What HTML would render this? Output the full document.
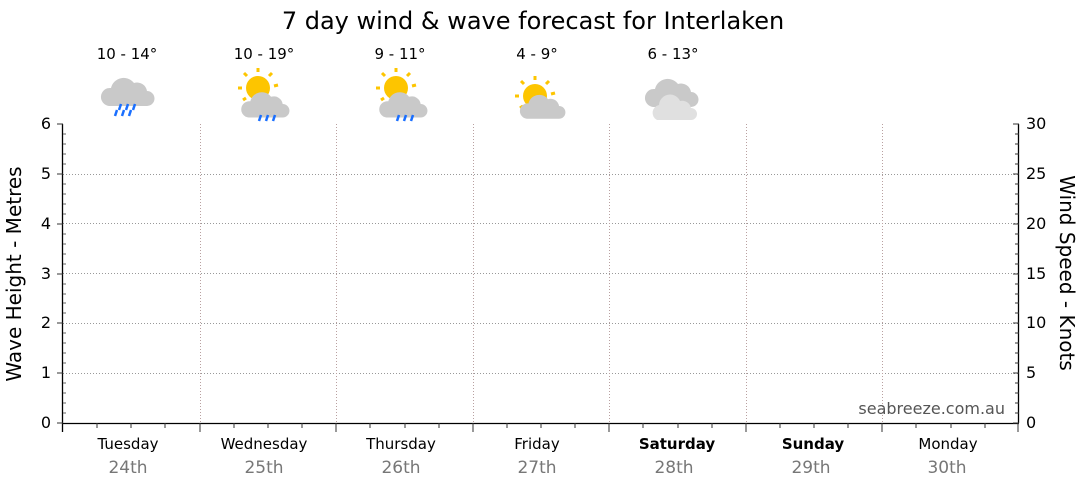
<!DOCTYPE html>
<html><head><meta charset="utf-8"><style>
html,body{margin:0;padding:0;background:#fff;}
svg{display:block;font-family:"DejaVu Sans",Verdana,sans-serif;}
</style></head><body>
<svg width="1080" height="490" viewBox="0 0 1080 490" xmlns="http://www.w3.org/2000/svg">
<defs>
<g id="cloud"><path d="M-25,15 a9,9 0 0 1 2,-18 a13,13 0 0 1 23,-5 a10,10 0 0 1 13,8 a7.5,7.5 0 0 1 0,15 z" fill="#c9c9c9"/></g>
<g id="sun"><circle r="12" fill="#fdc500"/><g stroke="#fdc500" stroke-width="3">
<line x1="0" y1="-16" x2="0" y2="-20"/><line x1="11" y1="-12" x2="14" y2="-15"/><line x1="-11" y1="-12" x2="-14" y2="-15"/><line x1="-16" y1="0" x2="-20" y2="0"/><line x1="16" y1="-2" x2="20" y2="-3"/><line x1="-12" y1="10" x2="-15" y2="12"/></g></g>
<g id="rain" stroke="#1a6fff" stroke-width="2.5"><line x1="0" y1="0" x2="-2" y2="6"/><line x1="7" y1="0" x2="5" y2="6"/><line x1="14" y1="0" x2="12" y2="6"/></g>
</defs>
<text x="533" y="29" font-size="24" text-anchor="middle" fill="#000">7 day wind &amp; wave forecast for Interlaken</text>
<g font-size="15" text-anchor="middle" fill="#000">
<text x="127" y="59">10 - 14°</text><text x="264" y="59">10 - 19°</text><text x="400" y="59">9 - 11°</text><text x="537" y="59">4 - 9°</text><text x="673" y="59">6 - 13°</text></g>
<g transform="translate(134,91)"><use href="#cloud"/><g transform="translate(-17,19)"><use href="#rain"/></g><g transform="translate(-13,13)"><use href="#rain"/></g></g>
<g transform="translate(258,88)"><use href="#sun"/></g>
<g transform="translate(271,104)"><use href="#cloud" transform="scale(0.9)"/><g transform="translate(-10,11)"><use href="#rain"/></g></g>
<g transform="translate(396,88)"><use href="#sun"/></g>
<g transform="translate(409,104)"><use href="#cloud" transform="scale(0.9)"/><g transform="translate(-10,11)"><use href="#rain"/></g></g>
<g transform="translate(535,96)"><use href="#sun"/></g>
<g transform="translate(548,106)"><use href="#cloud" transform="scale(0.85)"/></g>
<g transform="translate(678,92)"><use href="#cloud"/></g>
<g transform="translate(680,108)"><path d="M-23,12 a8,8 0 0 1 2,-15 a11,11 0 0 1 21,-4 a9,9 0 0 1 11,7 a6,6 0 0 1 0,12 z" fill="#e0e0e0"/></g>
<g stroke="#999" stroke-width="1" stroke-dasharray="1,2">
<line x1="63" y1="373.5" x2="1018" y2="373.5"/><line x1="63" y1="323.5" x2="1018" y2="323.5"/><line x1="63" y1="273.5" x2="1018" y2="273.5"/><line x1="63" y1="223.5" x2="1018" y2="223.5"/><line x1="63" y1="174.5" x2="1018" y2="174.5"/>
</g>
<g stroke="#b9a0a0" stroke-width="1" stroke-dasharray="1,2">
<line x1="200.5" y1="124" x2="200.5" y2="423"/><line x1="336.5" y1="124" x2="336.5" y2="423"/><line x1="473.5" y1="124" x2="473.5" y2="423"/><line x1="609.5" y1="124" x2="609.5" y2="423"/><line x1="746.5" y1="124" x2="746.5" y2="423"/><line x1="882.5" y1="124" x2="882.5" y2="423"/>
</g>
<g stroke="#000" stroke-width="1.3" fill="none">
<line x1="62.5" y1="124" x2="62.5" y2="432"/>
<line x1="1018.5" y1="124" x2="1018.5" y2="423"/>
<line x1="62" y1="423.5" x2="1019" y2="423.5"/>
</g>
<g stroke="#333" stroke-width="1">
<path d="M57,124h6M57,174h6M57,224h6M57,274h6M57,323h6M57,373h6M57,423h6"/>
<path d="M63,134h3M63,144h3M63,154h3M63,164h3M63,184h3M63,194h3M63,204h3M63,214h3M63,234h3M63,244h3M63,254h3M63,264h3M63,284h3M63,294h3M63,303h3M63,313h3M63,333h3M63,343h3M63,353h3M63,363h3M63,383h3M63,393h3M63,403h3M63,413h3" stroke="#666"/>
<path d="M1013,124h6M1013,174h6M1013,224h6M1013,274h6M1013,323h6M1013,373h6M1013,423h6M1015,134h4M1015,144h4M1015,154h4M1015,164h4M1015,184h4M1015,194h4M1015,204h4M1015,214h4M1015,234h4M1015,244h4M1015,254h4M1015,264h4M1015,284h4M1015,294h4M1015,303h4M1015,313h4M1015,333h4M1015,343h4M1015,353h4M1015,363h4M1015,383h4M1015,393h4M1015,403h4M1015,413h4"/>
<path d="M200,423v9M336,423v9M473,423v9M609,423v9M746,423v9M882,423v9M1018,423v9"/>
<path d="M97,423v5M131,423v5M165,423v5M234,423v5M268,423v5M302,423v5M370,423v5M405,423v5M439,423v5M507,423v5M541,423v5M575,423v5M643,423v5M678,423v5M712,423v5M780,423v5M814,423v5M848,423v5M916,423v5M951,423v5M985,423v5"/>
</g>
<g font-size="16" fill="#000" text-anchor="end">
<text x="51" y="129">6</text><text x="51" y="179">5</text><text x="51" y="229">4</text><text x="51" y="279">3</text><text x="51" y="328">2</text><text x="51" y="378">1</text><text x="51" y="428">0</text></g>
<g font-size="16" fill="#000" text-anchor="start">
<text x="1026" y="129">30</text><text x="1026" y="179">25</text><text x="1026" y="229">20</text><text x="1026" y="279">15</text><text x="1026" y="328">10</text><text x="1026" y="378">5</text><text x="1026" y="428">0</text></g>
<text transform="translate(21,274) rotate(-90)" font-size="20" text-anchor="middle">Wave Height - Metres</text>
<text transform="translate(1060,273) rotate(90)" font-size="20" text-anchor="middle">Wind Speed - Knots</text>
<text x="1005" y="414" font-size="16" fill="#555" text-anchor="end">seabreeze.com.au</text>
<g font-size="15" text-anchor="middle" fill="#000">
<text x="128" y="449">Tuesday</text><text x="264" y="449">Wednesday</text><text x="401" y="449">Thursday</text><text x="537" y="449">Friday</text><text x="677" y="449" font-weight="bold">Saturday</text><text x="813" y="449" font-weight="bold">Sunday</text><text x="948" y="449">Monday</text></g>
<g font-size="17" text-anchor="middle" fill="#777">
<text x="128" y="473">24th</text><text x="264" y="473">25th</text><text x="401" y="473">26th</text><text x="537" y="473">27th</text><text x="674" y="473">28th</text><text x="811" y="473">29th</text><text x="947" y="473">30th</text></g>
</svg>
</body></html>
